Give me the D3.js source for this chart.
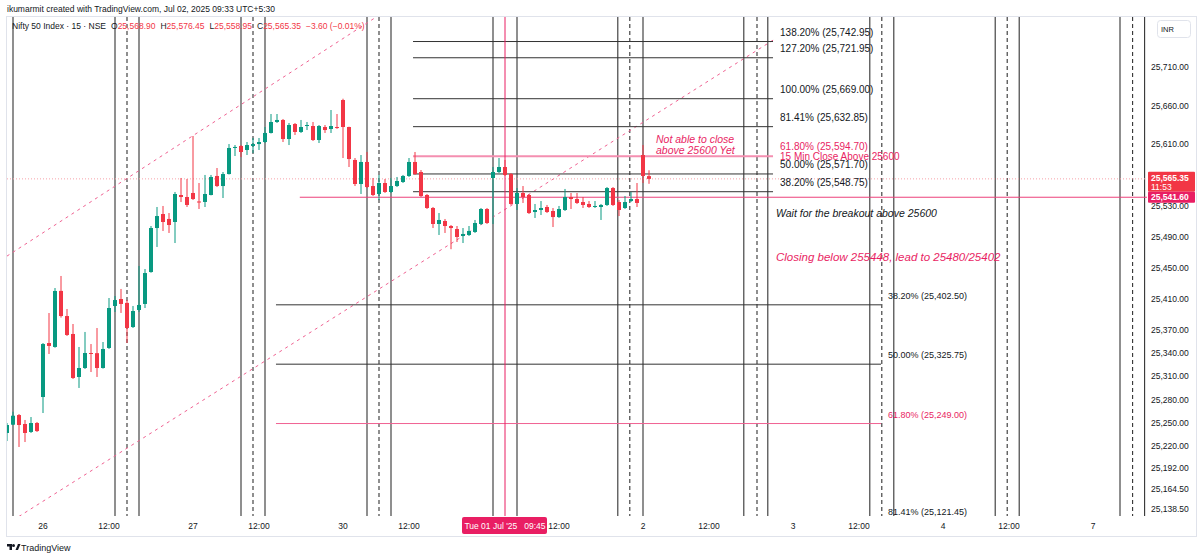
<!DOCTYPE html>
<html>
<head>
<meta charset="utf-8">
<script src="https://cdn.jsdelivr.net/npm/d3@7"></script>
<style>
body { margin: 0; background: #fff; }
svg { display: block; font-family: "Liberation Sans", Arial, sans-serif; }
</style>
</head>
<body>
<script>
// 15 min candles, first one is Jun 25 13:45 (index -6), Jun 26 09:15 is index 0
var firstIndex = -6;
var opens = [25236.8, 25247.5, 25260, 25248.4, 25238.1, 25249.7,
  25283.3, 25353.1, 25348, 25420.5, 25388, 25364.8, 25309.2, 25320.8, 25340.2, 25340, 25320.8, 25346.7, 25401, 25410, 25405, 25373.8, 25395.8, 25403.6, 25444.9, 25501.8, 25519.9, 25513.5, 25509.6, 25544.5, 25541.9,
  25547.1, 25536.1, 25535.5, 25544.5, 25569.1, 25556.1, 25571.6, 25605.3, 25607.9, 25602.7, 25607.9, 25610.4, 25613, 25624.7, 25638.9, 25641.5, 25616.9, 25636.3, 25626, 25633.7, 25633.7, 25615.6, 25632.4, 25629.8, 25632.4,
  25667.3, 25632.4, 25589.8, 25558.7, 25587.2, 25556.1, 25545.8, 25560, 25548.4, 25556.1, 25561.3, 25569.1, 25587.2, 25574.2, 25544.5, 25527.7, 25507, 25510.9, 25504.4, 25500.5, 25491.5, 25492.8, 25496.7, 25507, 25526.4,
  25566.5, 25574.2, 25580.7, 25571.6, 25532.9, 25547.1, 25544.5, 25522.5, 25525.1, 25529, 25523.8, 25516, 25525.1, 25541.9, 25539.3, 25535.4, 25532.9, 25529, 25529, 25531.6, 25553.5, 25535.4, 25527.7, 25536.7, 25539.3,
  25596.2, 25568.9];
var highs = [25249.7, 25264.3, 25261.3, 25253.6, 25257.4, 25251,
  25353.1, 25391.9, 25424.2, 25439.8, 25397.1, 25377.7, 25348, 25367.4, 25351.8, 25372.5, 25354.4, 25411.3, 25413.9, 25423, 25408.7, 25401, 25452.7, 25448.8, 25504.4, 25529, 25530.3, 25521.2, 25548.4, 25566.5, 25565.2,
  25620.8, 25560, 25570.4, 25570.4, 25579.4, 25574.2, 25610.4, 25609.1, 25609, 25613, 25618.2, 25618.2, 25632.4, 25649.2, 25649.2, 25642.8, 25637.6, 25637.6, 25641.5, 25638.9, 25638.9, 25635, 25635, 25654.4, 25649.2,
  25669, 25632.8, 25592.3, 25596.2, 25600.1, 25566.5, 25570.4, 25565.2, 25566.5, 25567.8, 25570.4, 25592.3, 25600.1, 25576.8, 25545.8, 25529, 25521.2, 25513.5, 25505.7, 25504.4, 25501.8, 25504.4, 25512.2, 25527.7, 25527.7,
  25580.7, 25592.3, 25589.8, 25572.9, 25553.5, 25556.1, 25545.8, 25532.9, 25536.7, 25531.6, 25527.7, 25530.3, 25552.3, 25547.1, 25547.1, 25541.9, 25536.7, 25536.7, 25532.9, 25554.8, 25554.8, 25538, 25543.2, 25548.4, 25560,
  25609.1, 25576.45];
var lows = [25226.4, 25247.1, 25218.7, 25225.1, 25236.8, 25238.1,
  25262.6, 25338.9, 25347, 25386, 25362.2, 25306.6, 25295, 25319.5, 25315.6, 25309.2, 25320, 25345.4, 25393.2, 25392, 25353.1, 25372.5, 25393.2, 25398.4, 25444, 25477.3, 25498, 25495.4, 25482.4, 25535.4, 25529,
  25538, 25526.4, 25529, 25544, 25554.8, 25540.6, 25571, 25594.9, 25593.6, 25596.2, 25598.8, 25602.7, 25611.7, 25624, 25637.6, 25613, 25609.1, 25622.1, 25624.7, 25628.5, 25614.3, 25611.7, 25624.7, 25624.7, 25630,
  25592.3, 25580.7, 25556.1, 25545.8, 25553.5, 25543.2, 25538, 25547.1, 25547.1, 25554.8, 25560, 25567.8, 25570.4, 25541.9, 25526.4, 25501.8, 25492.8, 25495.4, 25474.4, 25483.7, 25482.4, 25491.5, 25495.4, 25505.7, 25507,
  25507, 25572.9, 25569.1, 25531.6, 25525.1, 25534.2, 25519.9, 25514.8, 25518.6, 25521.2, 25503.1, 25514.8, 25523.8, 25526.4, 25532.9, 25527.7, 25527.7, 25527.7, 25512.2, 25530.3, 25530.3, 25517.3, 25526.4, 25535.4, 25529,
  25560, 25558.95];
var closes = [25247.1, 25259.1, 25247.1, 25236.8, 25249.7, 25239.3,
  25351.8, 25349.3, 25420.4, 25388, 25363.5, 25307.9, 25320.8, 25340.2, 25339.5, 25320.8, 25345.4, 25398.4, 25408.7, 25403.6, 25372.5, 25394.5, 25402.3, 25443.6, 25501.8, 25517.3, 25509.6, 25505.7, 25545.8, 25541.9, 25531.6,
  25539.3, 25534.8, 25545.8, 25567.8, 25556.1, 25571.6, 25605.3, 25606.6, 25600.1, 25609.1, 25610.4, 25613, 25624.7, 25638.9, 25641.5, 25616.9, 25635, 25626, 25632.4, 25635, 25615.6, 25633.7, 25628.5, 25633.7, 25631.1,
  25632.4, 25591, 25558.7, 25587.2, 25554.8, 25544.5, 25560, 25548.4, 25556.1, 25562.6, 25569.1, 25587.2, 25571.6, 25543.2, 25527.7, 25507, 25512.2, 25504.4, 25501.8, 25490.2, 25494.1, 25498, 25508.3, 25526.4, 25508.3,
  25574.2, 25580.7, 25570.4, 25532.9, 25547.1, 25541.9, 25521.2, 25525.1, 25527.7, 25522.5, 25516, 25526.4, 25541.9, 25539.3, 25534.2, 25531.6, 25529, 25530.3, 25531.6, 25553.5, 25531.6, 25525.1, 25535.4, 25539.3, 25534.2,
  25569.1, 25565.35];

// time axis (candle index) ticks
var timeTicks = [0, 11, 25, 36, 50, 61, 86, 100, 111, 125, 136, 150, 161, 175];
var timeLabels = ["26", "12:00", "27", "12:00", "30", "12:00", "12:00", "2", "12:00", "3", "12:00", "4", "12:00", "7"];
var priceTicks = [25710, 25660, 25610, 25570, 25530, 25490, 25450, 25410, 25370, 25340, 25310, 25280, 25250, 25220, 25192, 25164.5, 25138.5];

// drawings
var vSolid = [-5, 12, 16, 33, 37, 54, 58, 75, 79, 95.8, 100, 116.8, 120.8, 137.8, 141.8, 158.7, 162.7, 179.5, 183.6];
var vDashed = [14, 35, 56, 97.8, 119, 139.8, 160.7, 181.6];
var fibUpLevels = ["138.20%", "127.20%", "100.00%", "81.41%", "61.80%", "50.00%", "38.20%"];
var fibUpPrices = [25742.95, 25721.95, 25669.00, 25632.85, 25594.70, 25571.70, 25548.75];
var fibUpRange = [61.67, 121.67];
var fibDownLevels = ["38.20%", "50.00%", "61.80%", "81.41%"];
var fibDownPrices = [25402.50, 25325.75, 25249.00, 25121.45];
var fibDownRange = [38.83, 139.67];
var chanUpper = [[-7, 25460.5], [58, 25787]];
var chanLower = [[-5, 25124], [122, 25746.3]];
var supportPrice = 25541.60, supportStart = 42.8;
var lastPrice = 25565.35;
var crossIdx = 77;

var W = 1200, H = 556;
var pane = {l: 7, t: 17, r: 1147, b: 516};
var green = "#089981", red = "#f23645", pink = "#e91e63";

var x = d3.scaleLinear().domain([-6, 184]).range([7, 1147]);
var y = d3.scaleLinear().domain([25129.45, 25774.65]).range([516, 17]);

var svg = d3.select("body").append("svg").attr("width", W).attr("height", H);

svg.append("defs").append("clipPath").attr("id", "pane")
  .append("rect").attr("x", pane.l).attr("y", pane.t)
  .attr("width", pane.r - pane.l).attr("height", pane.b - pane.t);

// frame
svg.append("rect").attr("x", 6.5).attr("y", 16.5).attr("width", 1190).attr("height", 520)
  .attr("fill", "none").attr("stroke", "#e0e3eb");

var g = svg.append("g").attr("clip-path", "url(#pane)");

// vertical lines
g.selectAll(".vs").data(vSolid).enter().append("line")
  .attr("x1", d => x(d)).attr("x2", d => x(d))
  .attr("y1", pane.t).attr("y2", pane.b)
  .attr("stroke", "#333").attr("stroke-width", 1.1);
g.selectAll(".vd").data(vDashed).enter().append("line")
  .attr("x1", d => x(d)).attr("x2", d => x(d))
  .attr("y1", pane.t).attr("y2", pane.b)
  .attr("stroke", "#333").attr("stroke-width", 1.1).attr("stroke-dasharray", "4,3");

// channel
[chanUpper, chanLower].forEach(function(c) {
  g.append("line")
    .attr("x1", x(c[0][0])).attr("y1", y(c[0][1]))
    .attr("x2", x(c[1][0])).attr("y2", y(c[1][1]))
    .attr("stroke", "#f06292").attr("stroke-width", 1).attr("stroke-dasharray", "3,4");
});

// fib lines
fibUpPrices.forEach(function(p, i) {
  var isPink = fibUpLevels[i] == "61.80%";
  g.append("line")
    .attr("x1", x(fibUpRange[0])).attr("x2", x(fibUpRange[1]))
    .attr("y1", y(p)).attr("y2", y(p))
    .attr("stroke", isPink ? "#f48fb1" : "#333")
    .attr("stroke-width", isPink ? 2 : 1);
});
fibDownPrices.forEach(function(p, i) {
  var isPink = fibDownLevels[i] == "61.80%";
  g.append("line")
    .attr("x1", x(fibDownRange[0])).attr("x2", x(fibDownRange[1]))
    .attr("y1", y(p)).attr("y2", y(p))
    .attr("stroke", isPink ? "#f06292" : "#333")
    .attr("stroke-width", 1);
});

// support line and last price line
g.append("line").attr("x1", x(supportStart)).attr("x2", pane.r)
  .attr("y1", y(supportPrice)).attr("y2", y(supportPrice))
  .attr("stroke", "#ec407a").attr("stroke-width", 1);
g.append("line").attr("x1", pane.l).attr("x2", pane.r)
  .attr("y1", y(lastPrice)).attr("y2", y(lastPrice))
  .attr("stroke", "#f7a1aa").attr("stroke-width", 1).attr("stroke-dasharray", "1,2");

// crosshair
g.append("line").attr("x1", x(crossIdx)).attr("x2", x(crossIdx))
  .attr("y1", pane.t).attr("y2", pane.b)
  .attr("stroke", pink).attr("stroke-width", 1);

// candles
var candles = opens.map(function(o, i) {
  return {i: firstIndex + i, o: o, h: highs[i], l: lows[i], c: closes[i]};
});
var cg = g.selectAll(".candle").data(candles).enter().append("g");
cg.append("line")
  .attr("x1", d => x(d.i)).attr("x2", d => x(d.i))
  .attr("y1", d => y(d.h)).attr("y2", d => y(d.l))
  .attr("stroke", d => d.c >= d.o ? green : red).attr("stroke-width", 1);
cg.append("rect")
  .attr("x", d => x(d.i) - 2).attr("width", 4)
  .attr("y", d => y(Math.max(d.o, d.c)))
  .attr("height", d => Math.max(1, Math.abs(y(d.o) - y(d.c))))
  .attr("fill", d => d.c >= d.o ? green : red);

// fib labels
fibUpPrices.forEach(function(p, i) {
  svg.append("text").attr("x", x(fibUpRange[1]) + 7).attr("y", y(p) - 6)
    .attr("font-size", 10).attr("fill", fibUpLevels[i] == "61.80%" ? pink : "#131722")
    .text(fibUpLevels[i] + " (" + d3.format(",.2f")(p) + ")");
});
fibDownPrices.forEach(function(p, i) {
  svg.append("text").attr("x", x(fibDownRange[1]) + 7).attr("y", Math.min(y(p) - 6, 515))
    .attr("font-size", 9).attr("fill", fibDownLevels[i] == "61.80%" ? pink : "#131722")
    .text(fibDownLevels[i] + " (" + d3.format(",.2f")(p) + ")");
});

// notes
function note(t, px, py, col, italic, size) {
  svg.append("text").attr("x", px).attr("y", py).attr("dominant-baseline", "central")
    .attr("font-size", size || 10.5).attr("fill", col)
    .attr("font-style", italic ? "italic" : "normal").text(t);
}
note("Not able to close", 656, 139, pink, true);
note("above 25600 Yet", 656, 150, pink, true);
note("15 Min Close Above 25600", 780, 156, pink, false, 10);
note("Wait for the breakout above 25600", 776, 213, "#131722", true);
note("Closing below 255448, lead to 25480/25402", 776, 257, pink, true, 11.5);

// price axis
svg.append("g").selectAll("text").data(priceTicks).enter().append("text")
  .attr("x", 1151).attr("y", d => y(d)).attr("dominant-baseline", "central")
  .attr("font-size", 8.5).attr("fill", "#131722")
  .text(d => d3.format(",.2f")(d));

svg.append("rect").attr("x", 1157.5).attr("y", 20.5).attr("width", 33).attr("height", 17).attr("rx", 3)
  .attr("fill", "#fff").attr("stroke", "#e0e3eb");
svg.append("text").attr("x", 1161).attr("y", 29).attr("dominant-baseline", "central")
  .attr("font-size", 7.5).attr("fill", "#131722").text("INR");

var yl = y(lastPrice);
svg.append("rect").attr("x", 1148).attr("y", yl - 7).attr("width", 47).attr("height", 20).attr("rx", 1).attr("fill", red);
svg.append("text").attr("x", 1151).attr("y", yl - 0.5).attr("dominant-baseline", "central")
  .attr("font-size", 8.5).attr("fill", "#fff").attr("font-weight", "bold").text(d3.format(",.2f")(lastPrice));
svg.append("text").attr("x", 1151).attr("y", yl + 8.5).attr("dominant-baseline", "central")
  .attr("font-size", 8.5).attr("fill", "#fff").text("11:53");
var ys = y(supportPrice);
svg.append("rect").attr("x", 1148).attr("y", ys - 5.5).attr("width", 47).attr("height", 11).attr("rx", 1).attr("fill", pink);
svg.append("text").attr("x", 1151).attr("y", ys).attr("dominant-baseline", "central")
  .attr("font-size", 8.5).attr("fill", "#fff").attr("font-weight", "bold").text(d3.format(",.2f")(supportPrice));

// time axis
svg.append("g").selectAll("text").data(timeTicks).enter().append("text")
  .attr("x", d => x(d)).attr("y", 526).attr("text-anchor", "middle").attr("dominant-baseline", "central")
  .attr("font-size", 8.5).attr("fill", "#131722")
  .text((d, i) => timeLabels[i]);
var xc = x(crossIdx);
svg.append("rect").attr("x", xc - 43).attr("y", 517).attr("width", 85).attr("height", 17).attr("rx", 2).attr("fill", pink);
svg.append("text").attr("x", xc).attr("y", 526).attr("text-anchor", "middle").attr("dominant-baseline", "central")
  .attr("font-size", 8.5).attr("fill", "#fff").attr("xml:space", "preserve").text("Tue 01 Jul '25   09:45");

// header + legend
svg.append("text").attr("x", 7).attr("y", 9).attr("dominant-baseline", "central")
  .attr("font-size", 8.5).attr("fill", "#131722")
  .text("ikumarmit created with TradingView.com, Jul 02, 2025 09:33 UTC+5:30");
var lg = svg.append("text").attr("x", 12).attr("y", 26).attr("dominant-baseline", "central")
  .attr("font-size", 8.5).attr("fill", "#131722");
lg.append("tspan").text("Nifty 50 Index · 15 · NSE");
[["O", "25,568.90"], ["H", "25,576.45"], ["L", "25,558.95"], ["C", "25,565.35"]].forEach(function(p, i) {
  lg.append("tspan").attr("dx", 5).text(p[0]);
  lg.append("tspan").attr("fill", red).text(p[1]);
});
lg.append("tspan").attr("dx", 5).attr("fill", red).text("\u22123.60 (\u22120.01%)");

// footer logo
var logo = svg.append("g").attr("transform", "translate(7,544)");
logo.append("path").attr("d", "M0 0h5v6h-2.5v-3.5h-2.5z").attr("fill", "#131722");
logo.append("circle").attr("cx", 6.5).attr("cy", 1.5).attr("r", 1.5).attr("fill", "#131722");
logo.append("path").attr("d", "M8.5 6l2.5-6h2.5l-2.5 6z").attr("fill", "#131722");
svg.append("text").attr("x", 21).attr("y", 547.5).attr("dominant-baseline", "central")
  .attr("font-size", 9).attr("fill", "#131722").text("TradingView");
</script>
</body>
</html>
